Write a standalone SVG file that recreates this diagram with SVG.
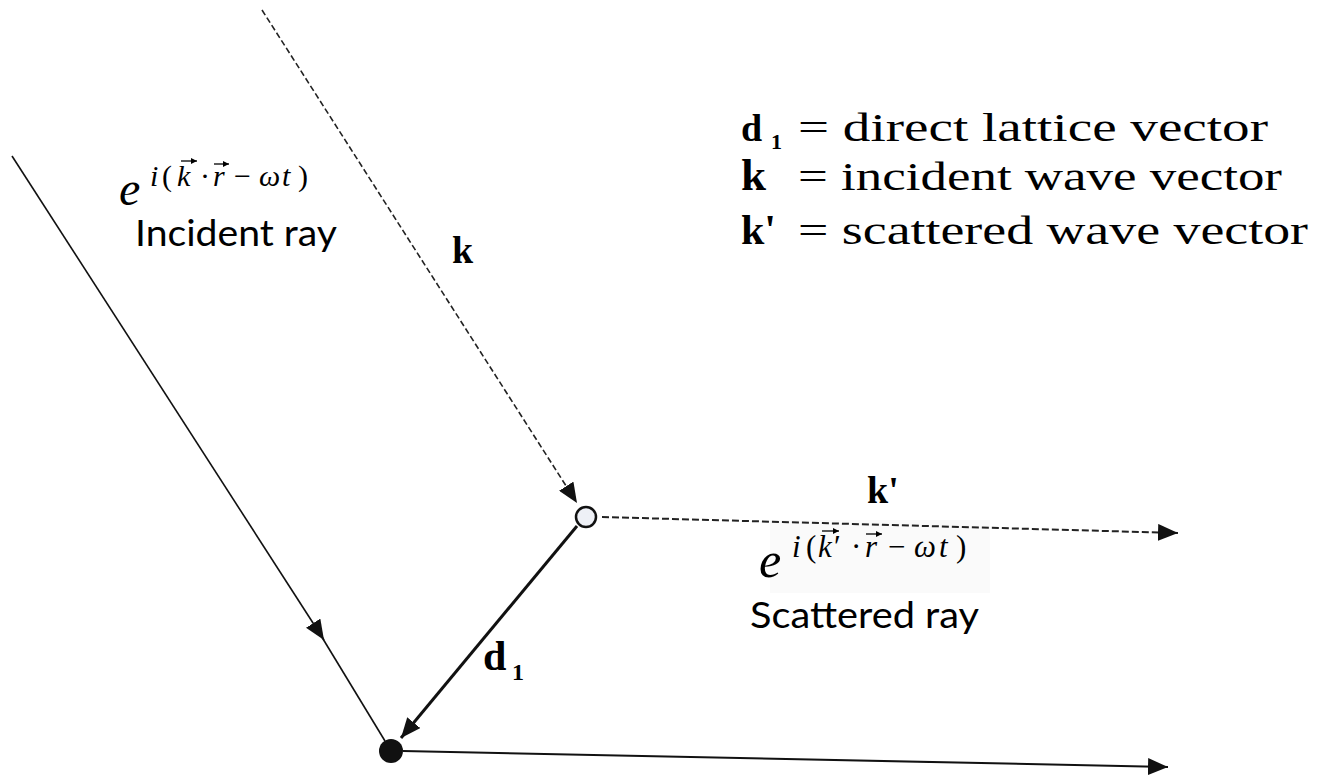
<svg xmlns="http://www.w3.org/2000/svg" width="1320" height="777" viewBox="0 0 1320 777">
<defs>
<style>
.ln{stroke:#111;fill:none;stroke-width:1.6}
.ln2{stroke:#111;fill:none;stroke-width:2}
.dash{stroke:#222;fill:none;stroke-width:1.6;stroke-dasharray:6 3}
.dash2{stroke:#222;fill:none;stroke-width:2;stroke-dasharray:7 3}
.thick{stroke:#111;fill:none;stroke-width:3}
.acc{stroke:#000;fill:none;stroke-width:1.3}
.bold{font-family:"Liberation Serif",serif;font-weight:bold;fill:#000}
.leg{font-family:"Liberation Serif",serif;fill:#000}
.mi{font-family:"Liberation Serif",serif;font-style:italic;fill:#000}
.mr{font-family:"Liberation Serif",serif;fill:#000}
.cap{font-family:Lato,"Liberation Sans",sans-serif;fill:#000}
</style>
<marker id="ah" viewBox="0 0 20 17" refX="20" refY="8.5" markerWidth="20" markerHeight="17" markerUnits="userSpaceOnUse" orient="auto"><path d="M0,0 L20,8.5 L0,17 z" fill="#111"/></marker>
<marker id="acch" viewBox="0 0 6 6" refX="6" refY="3" markerWidth="6" markerHeight="6" markerUnits="userSpaceOnUse" orient="auto"><path d="M0,0 L6,3 L0,6 z" fill="#000"/></marker>
</defs>
<rect width="1320" height="777" fill="#fff"/>
<rect x="770" y="520" width="220" height="73" fill="#fafafa"/>
<g id="connectors">
<line class="dash" x1="262" y1="10" x2="577" y2="503" marker-end="url(#ah)"/>
<line class="dash2" x1="602" y1="517" x2="1178" y2="533" marker-end="url(#ah)"/>
<line class="ln" x1="12" y1="156" x2="324" y2="640" marker-end="url(#ah)"/>
<line class="ln" x1="320" y1="634" x2="385" y2="741"/>
<line class="ln2" x1="403" y1="751" x2="1168" y2="767" marker-end="url(#ah)"/>
<line class="thick" x1="577" y1="526" x2="401" y2="738" marker-end="url(#ah)"/>
</g>
<g id="node-scatter"><circle cx="586" cy="517" r="10" fill="#eef0f6" stroke="#111" stroke-width="2.5"/></g>
<g id="node-origin"><circle cx="391" cy="751" r="12" fill="#111"/></g>
<g id="labels">
<text class="bold" x="452" y="263" font-size="38">k</text>
<text class="bold" x="867" y="503" font-size="38">k'</text>
<text class="bold" x="483" y="670" font-size="42">d</text>
<text class="bold" x="512" y="680" font-size="24">1</text>
</g>
<g id="formula-incident">
<text class="mi" x="119" y="205" font-size="48">e</text>
<text class="mi" y="186" font-size="30"><tspan x="150">i</tspan><tspan class="mr" x="162" font-style="normal">(</tspan><tspan x="177">k</tspan><tspan class="mr" x="200" font-style="normal">·</tspan><tspan x="213">r</tspan><tspan class="mr" x="234" font-style="normal">−</tspan><tspan x="259">ω</tspan><tspan x="282">t</tspan><tspan class="mr" x="298" font-style="normal">)</tspan></text>
<line class="acc" x1="181" y1="161" x2="197" y2="161" marker-end="url(#acch)"/>
<line class="acc" x1="214" y1="164" x2="229" y2="164" marker-end="url(#acch)"/>
<text class="cap" x="135" y="246" font-size="37" textLength="202" lengthAdjust="spacingAndGlyphs">Incident ray</text>
</g>
<g id="formula-scattered">
<text class="mi" x="759" y="577" font-size="50">e</text>
<text class="mi" y="557" font-size="31"><tspan x="792">i</tspan><tspan class="mr" x="806" font-style="normal">(</tspan><tspan x="818">k</tspan><tspan class="mr" x="834" font-style="normal">′</tspan><tspan class="mr" x="851" font-style="normal">·</tspan><tspan x="865">r</tspan><tspan class="mr" x="888" font-style="normal">−</tspan><tspan x="914">ω</tspan><tspan x="939">t</tspan><tspan class="mr" x="956" font-style="normal">)</tspan></text>
<line class="acc" x1="822" y1="531" x2="839" y2="531" marker-end="url(#acch)"/>
<line class="acc" x1="866" y1="534" x2="882" y2="534" marker-end="url(#acch)"/>
<text class="cap" x="750" y="628" font-size="37" textLength="229" lengthAdjust="spacingAndGlyphs">Scattered ray</text>
</g>
<g id="legend">
<text class="bold" x="741" y="141" font-size="38">d</text>
<text class="bold" x="771" y="149" font-size="22">1</text>
<text class="leg" x="798" y="141" font-size="39" textLength="470" lengthAdjust="spacingAndGlyphs">= direct lattice vector</text>
<text class="bold" x="741" y="190" font-size="45">k</text>
<text class="leg" x="798" y="190" font-size="39" textLength="484" lengthAdjust="spacingAndGlyphs">= incident wave vector</text>
<text class="bold" x="741" y="244" font-size="42">k'</text>
<text class="leg" x="798" y="244" font-size="39" textLength="510" lengthAdjust="spacingAndGlyphs">= scattered wave vector</text>
</g>
</svg>
